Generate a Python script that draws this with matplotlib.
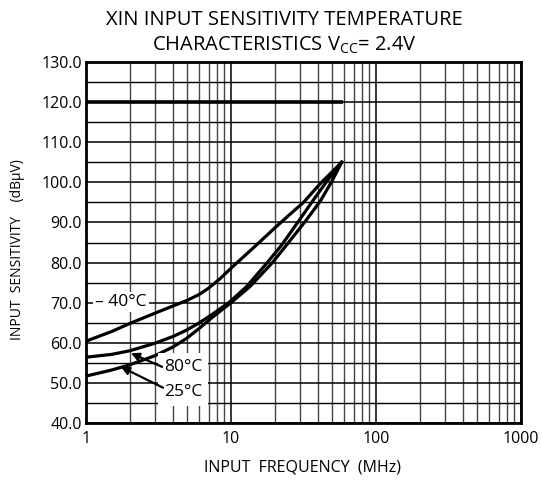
import matplotlib
matplotlib.use("Agg")
import matplotlib.pyplot as plt
from matplotlib.ticker import FixedLocator, NullFormatter, FixedFormatter

plt.rcParams['font.family'] = ['Open Sans', 'DejaVu Sans']

# ---- data ----
freq_m40 = [1, 1.5, 2, 3, 4, 5, 6, 7, 8.3, 10, 14, 19.6, 24.2, 31.6, 41.1, 58]
sens_m40 = [60.4, 62.8, 64.8, 67.4, 69.2, 70.6, 72.0, 73.6, 75.8, 78.6, 83.4, 88.3, 91.3, 95.0, 99.6, 105.0]

freq_80 = [1, 1.5, 2, 3, 4, 4.9, 6, 7.3, 8.5, 9.8, 12.8, 17.6, 22.4, 29.1, 36, 45.7, 58]
sens_80 = [56.4, 57.1, 58.0, 59.9, 61.6, 63.1, 64.9, 66.9, 68.6, 70.2, 74.0, 79.8, 84.4, 90.2, 95.0, 100.2, 105.0]

freq_25 = [1, 1.5, 2, 3, 4, 4.9, 6, 7.3, 8.5, 10, 13.5, 19.1, 24.2, 32.4, 41.1, 49.5, 58]
sens_25 = [51.7, 53.2, 54.5, 56.8, 59.0, 61.0, 63.5, 66.1, 68.0, 70.0, 74.0, 79.8, 84.4, 90.2, 95.2, 100.2, 105.0]

freq_ref = [1, 59]
sens_ref = [120, 120]

y_ticks = [40, 50, 60, 70, 80, 90, 100, 110, 120, 130]
y_tick_labels = ["40.0", "50.0", "60.0", "70.0", "80.0", "90.0", "100.0", "110.0", "120.0", "130.0"]
x_ticks = [1, 10, 100, 1000]
x_tick_labels = ["1", "10", "100", "1000"]

fig = plt.figure(figsize=(5.42, 4.84), dpi=100)
ax = fig.add_axes([86/542, 1-423/484, (521-86)/542, (423-62)/484])
ax.set_xscale('log')
ax.set_xlim(1, 1000)
ax.set_ylim(40, 130)

ax.yaxis.set_major_locator(FixedLocator(y_ticks))
ax.yaxis.set_major_formatter(FixedFormatter(y_tick_labels))
ax.yaxis.set_minor_locator(FixedLocator([v + 5 for v in y_ticks[:-1]]))
ax.xaxis.set_major_locator(FixedLocator(x_ticks))
ax.xaxis.set_major_formatter(FixedFormatter(x_tick_labels))
minors = [m * d for d in (1, 10, 100) for m in range(2, 10)]
ax.xaxis.set_minor_locator(FixedLocator(minors))
ax.xaxis.set_minor_formatter(NullFormatter())

ax.grid(True, which='major', axis='both', color='black', linewidth=1.1)
ax.grid(True, which='minor', axis='y', color='black', linewidth=1.0)
ax.grid(True, which='minor', axis='x', color='#444444', linewidth=1.0)
ax.set_axisbelow(True)
ax.tick_params(which='both', length=0, labelsize=11.5, pad=3)
ax.tick_params(axis='x', pad=6)
for s in ax.spines.values():
    s.set_linewidth(2.0)

lw = 2.3
ax.plot(freq_ref, sens_ref, color='black', lw=2.6, solid_capstyle='butt', zorder=3)
ax.plot(freq_m40, sens_m40, color='black', lw=lw, zorder=3)
ax.plot(freq_80, sens_80, color='black', lw=lw, zorder=3)
ax.plot(freq_25, sens_25, color='black', lw=lw, zorder=3)

bb = dict(facecolor='white', edgecolor='none', pad=1.5)
bb2 = dict(facecolor='white', edgecolor='none', pad=4.5)
ax.text(1.16, 70.2, "\u2013 40\u00b0C", fontsize=12.5, va='center', ha='left', bbox=bb, zorder=4)
ax.text(3.45, 54.0, "80\u00b0C", fontsize=12.5, va='center', ha='left', bbox=bb2, zorder=4)
ax.text(3.45, 47.7, "25\u00b0C", fontsize=12.5, va='center', ha='left', bbox=bb2, zorder=4)
ap = dict(arrowstyle='-|>', color='black', lw=1.6, mutation_scale=12, shrinkA=0, shrinkB=0)
ax.annotate("", xy=(2.04, 57.4), xytext=(3.35, 54.0), arrowprops=ap, zorder=5)
ax.annotate("", xy=(1.74, 54.0), xytext=(3.4, 48.8), arrowprops=ap, zorder=5)

fig.text(284/542, 1-20/484, "XIN INPUT SENSITIVITY TEMPERATURE", ha='center', va='center', fontsize=14.5, fontweight='medium')
fig.text(284/542, 1-45/484, "CHARACTERISTICS V$_{\\mathregular{CC}}$= 2.4V", ha='center', va='center', fontsize=14.5, fontweight='medium')
fig.text(303/542, 1-467/484, "INPUT  FREQUENCY  (MHz)", ha='center', va='center', fontsize=11.5)
fig.text(18/542, 1-250/484, "INPUT  SENSITIVITY    (dB\u03bcV)", ha='center', va='center', fontsize=10, rotation=90)

fig.savefig("out.png", dpi=100)
